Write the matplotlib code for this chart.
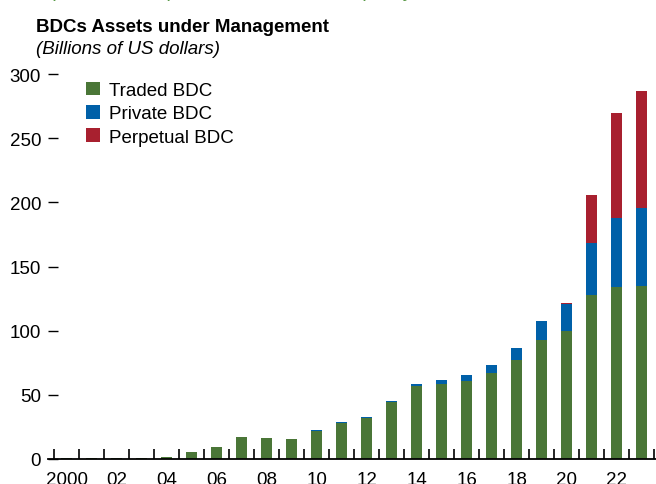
import matplotlib.pyplot as plt
import numpy as np

years = np.arange(2000, 2024)
traded = [0.5, 0.5, 0.5, 0.5, 1.5, 5.5, 9.5, 17, 16, 15.5, 22, 28, 32, 44.4,
          56.8, 58.4, 60.7, 66.9, 77, 92.6, 99.6, 127.6, 133.9, 134.6]
private = [0, 0, 0, 0, 0, 0, 0, 0, 0, 0, 0.6, 1, 1, 0.8,
           1.6, 3.1, 4.7, 6.1, 9.4, 14.8, 21, 40.7, 53.6, 60.7]
perpetual = [0, 0, 0, 0, 0, 0, 0, 0, 0, 0, 0, 0, 0, 0,
             0, 0, 0, 0, 0, 0, 0.8, 37.1, 81.8, 91.1]
tick_years = list(range(2000, 2023, 2))
tick_labels = ["2000"] + [f"{y % 100:02d}" for y in tick_years[1:]]

green = "#4a7637"
blue = "#0060a8"
red = "#a8202f"

plt.rcParams['font.family'] = ['Liberation Sans Narrow', 'Liberation Sans', 'DejaVu Sans']

fig = plt.figure(figsize=(6.56, 4.85), dpi=100)
ax = fig.add_axes([48 / 656, 25 / 485, 1 - 48 / 656, 385 / 485])

traded = np.array(traded)
private = np.array(private)
perpetual = np.array(perpetual)
w = 0.44
ax.bar(years, traded, w, color=green, label="Traded BDC")
ax.bar(years, private, w, bottom=traded, color=blue, label="Private BDC")
ax.bar(years, perpetual, w, bottom=traded + private, color=red, label="Perpetual BDC")

ax.set_xlim(1999.26, 2023.56)
ax.set_ylim(0, 300)
for s in ["left", "right", "top"]:
    ax.spines[s].set_visible(False)
ax.spines["bottom"].set_linewidth(1.3)

ax.set_yticks([0, 50, 100, 150, 200, 250, 300])
ax.tick_params(axis="y", direction="in", length=7, width=1, pad=5, labelsize=13.5)
ax.set_xticks(tick_years)
ax.set_xticklabels(tick_labels)
ax.set_xticks(np.arange(1999.5, 2024, 1), minor=True)
ax.tick_params(axis="x", which="major", length=0, pad=9, labelsize=13.5)
ax.tick_params(axis="x", which="minor", direction="in", length=7, width=1.2)

ax.legend(loc="upper left", bbox_to_anchor=(0.05, 1.0), frameon=False, fontsize=13.5,
          handlelength=0.75, handleheight=0.75, handletextpad=0.5, labelspacing=0.32,
          borderaxespad=0)

fig.text(36 / 656, 1 - 27 / 485, "BDCs Assets under Management", fontsize=13.5,
         fontweight="bold", va="center")
fig.text(36 / 656, 1 - 50 / 485, "(Billions of US dollars)", fontsize=13.5,
         style="italic", va="center")
fig.text(0.0, 1 + 8 / 485, "sble open-end companies, but increase liquidity risk",
         fontsize=14, color="#5a9a48", va="center")

fig.savefig("out.png", dpi=100)
